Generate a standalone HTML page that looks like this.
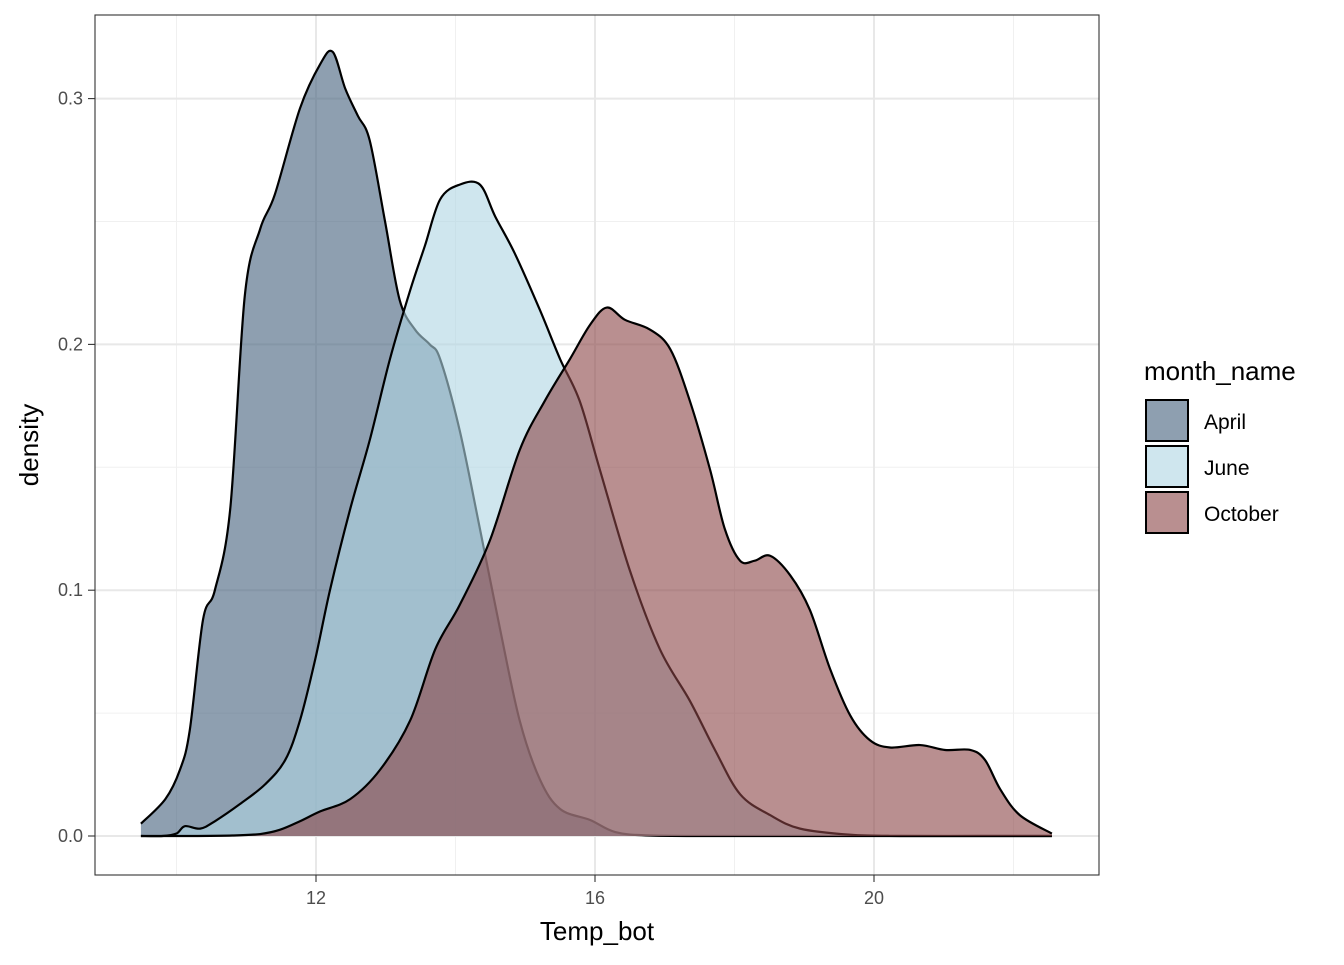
<!DOCTYPE html>
<html><head><meta charset="utf-8"><style>
body{margin:0;background:#fff;font-family:"Liberation Sans",Arial,sans-serif}
</style></head><body>
<svg id="chart" width="1344" height="960" xmlns="http://www.w3.org/2000/svg">
<rect x="0" y="0" width="1344" height="960" fill="#fff"/>
<g id="grid"></g>
<g id="series"></g>
<rect x="95" y="15" width="1004" height="860" fill="none" stroke="#333" stroke-width="1.1"/>
<g id="axes"></g>
<text x="597" y="940" font-size="26" text-anchor="middle" fill="#000">Temp_bot</text>
<text transform="translate(38,445) rotate(-90)" font-size="26" text-anchor="middle" fill="#000">density</text>
<g>
<text x="1144" y="380" font-size="26" fill="#000">month_name</text>
<g><rect x="1146" y="400" width="42" height="41" fill="#8e9fb0" stroke="#000" stroke-width="2"/><text x="1204" y="429" font-size="21">April</text></g>
<g><rect x="1146" y="446" width="42" height="41" fill="#cfe6ee" stroke="#000" stroke-width="2"/><text x="1204" y="475" font-size="21">June</text></g>
<g><rect x="1146" y="492" width="42" height="41" fill="#b98f90" stroke="#000" stroke-width="2"/><text x="1204" y="521" font-size="21">October</text></g>
</g>
</svg>
<script>
const xTicks=[12,16,20];
const xMinor=[10,14,18,22];
const yTicks=[0,0.1,0.2,0.3];
const yTickLabels=["0.0","0.1","0.2","0.3"];
const yMinor=[0.05,0.15,0.25];
const aprilT=[9.49,9.84,10.05,10.19,10.38,10.55,10.77,10.98,11.20,11.41,11.77,12.06,12.24,12.42,12.60,12.77,12.99,13.20,13.42,13.63,13.78,14.06,14.35,14.64,14.92,15.21,15.50,15.93,16.29,16.79,18.0,20.0,22.55];
const aprilD=[0.005,0.015,0.027,0.043,0.088,0.1,0.133,0.22,0.247,0.261,0.296,0.314,0.319,0.304,0.293,0.283,0.25,0.218,0.206,0.2,0.194,0.165,0.125,0.084,0.047,0.023,0.011,0.0065,0.0016,0.0002,0,0,0];
const juneT=[9.49,9.8,10.0,10.12,10.34,10.55,10.91,11.27,11.56,11.77,11.99,12.20,12.49,12.77,13.06,13.35,13.56,13.78,14.06,14.35,14.57,14.85,15.21,15.50,15.78,16.07,16.50,16.93,17.36,17.72,18.08,18.51,18.94,19.66,20.37,21.5,22.55];
const juneD=[0,0,0.001,0.004,0.003,0.006,0.013,0.021,0.031,0.047,0.072,0.1,0.133,0.161,0.194,0.222,0.24,0.259,0.265,0.265,0.252,0.237,0.214,0.194,0.177,0.149,0.108,0.076,0.055,0.035,0.017,0.0085,0.003,0.0005,0,0,0];
const octT=[9.49,10.2,10.8,11.2,11.48,11.77,12.06,12.49,12.92,13.35,13.71,14.06,14.49,14.92,15.28,15.64,15.93,16.17,16.43,16.79,17.08,17.36,17.65,17.86,18.08,18.29,18.51,18.80,19.08,19.37,19.66,19.94,20.23,20.66,21.02,21.38,21.59,21.81,22.09,22.55];
const octD=[0,0,0.0002,0.0008,0.0025,0.006,0.01,0.015,0.027,0.047,0.076,0.094,0.12,0.157,0.177,0.194,0.208,0.215,0.21,0.206,0.198,0.177,0.149,0.125,0.112,0.112,0.114,0.106,0.092,0.068,0.049,0.039,0.036,0.037,0.035,0.035,0.031,0.019,0.0085,0.001];
const X=t=>316+(t-12)*69.75;
const Y=d=>836-d*2458;
const NS="http://www.w3.org/2000/svg";
function mk(tag,attrs,parent){const e=document.createElementNS(NS,tag);for(const k in attrs)e.setAttribute(k,attrs[k]);parent.appendChild(e);return e;}
const grid=document.getElementById('grid'),axes=document.getElementById('axes'),series=document.getElementById('series');
xMinor.forEach(v=>{const l=mk('line',{x1:X(v),x2:X(v),y1:15,y2:875,stroke:'#f0f0f0','stroke-width':1},grid);});
yMinor.forEach(v=>{const l=mk('line',{x1:95,x2:1099,y1:Y(v),y2:Y(v),stroke:'#f0f0f0','stroke-width':1},grid);});
xTicks.forEach(v=>{const l=mk('line',{x1:X(v),x2:X(v),y1:15,y2:875,stroke:'#e8e8e8','stroke-width':2},grid);
const t=mk('line',{x1:X(v),x2:X(v),y1:875,y2:882,stroke:'#333','stroke-width':1.1},axes);
const tx=mk('text',{x:X(v),y:904,'font-size':18,'text-anchor':'middle',fill:'#4d4d4d'},axes);tx.textContent=v;});
yTicks.forEach((v,i)=>{const l=mk('line',{x1:95,x2:1099,y1:Y(v),y2:Y(v),stroke:'#e8e8e8','stroke-width':2},grid);
const t=mk('line',{x1:88,x2:95,y1:Y(v),y2:Y(v),stroke:'#333','stroke-width':1.1},axes);
const tx=mk('text',{x:83,y:Y(v)+6,'font-size':18,'text-anchor':'end',fill:'#4d4d4d'},axes);tx.textContent=yTickLabels[i];});
function smooth(ts,ds){const p=ts.map((t,i)=>[X(t),Y(ds[i])]);let s='M'+p[0][0]+','+p[0][1];
for(let i=0;i<p.length-1;i++){const p0=p[Math.max(0,i-1)],p1=p[i],p2=p[i+1],p3=p[Math.min(p.length-1,i+2)];
const c1=[p1[0]+(p2[0]-p0[0])/6,p1[1]+(p2[1]-p0[1])/6],c2=[p2[0]-(p3[0]-p1[0])/6,p2[1]-(p3[1]-p1[1])/6];
s+=` C${c1[0]},${c1[1]} ${c2[0]},${c2[1]} ${p2[0]},${p2[1]}`;}return s;}
[[aprilT,aprilD,'#435f7b','april'],[juneT,juneD,'#afd5e3','june'],[octT,octD,'#8a4446','october']].forEach(([t,d,c,n])=>{
const path=smooth(t,d);
const f=mk('path',{d:path+` L${X(t[t.length-1])},836 L${X(t[0])},836 Z`,fill:c,'fill-opacity':0.6,stroke:'none'},series);

const o=mk('path',{d:path,fill:'none',stroke:'#000','stroke-width':2.2},series);
});
</script>
</body></html>
